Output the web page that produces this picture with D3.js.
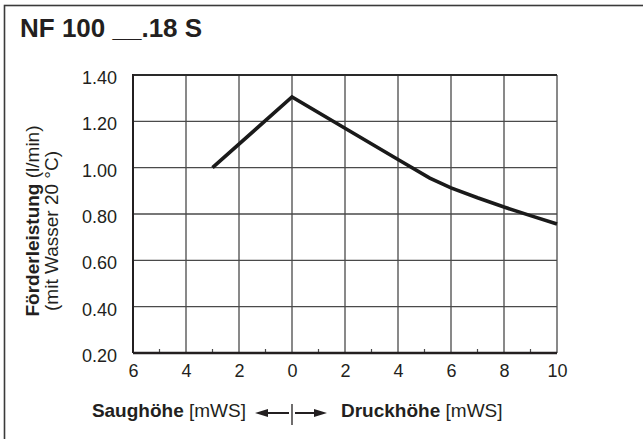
<!DOCTYPE html>
<html>
<head>
<meta charset="utf-8">
<script src="https://cdn.jsdelivr.net/npm/d3@7/dist/d3.min.js"></script>
<style>
	body { margin: 0; background: #fff; }
	svg text { font-family: "Liberation Sans", Arial, sans-serif; fill: #231f20; }
</style>
</head>
<body>
<svg id="chart" width="643" height="439"></svg>
<script>
// pump curve, head in mWS (negative = suction side)
var headValues = [-3, 0, 2, 4, 5.2, 6, 7, 8, 9, 10];
var flowValues = [1.00, 1.305, 1.17, 1.035, 0.955, 0.913, 0.87, 0.83, 0.793, 0.757];

var xTicks = [-6, -4, -2, 0, 2, 4, 6, 8, 10];
var xMinorTicks = [-5, -3, -1, 1, 3, 5, 7, 9];
var yTicks = [0.2, 0.4, 0.6, 0.8, 1.0, 1.2, 1.4];

var title = 'NF 100 __.18 S';

var svg = d3.select('#chart');
var x = d3.scaleLinear().domain([-6, 10]).range([133, 557]);
var y = d3.scaleLinear().domain([0.2, 1.4]).range([353, 75]);

// frame
svg.append('rect')
	.attr('x', 4.5).attr('y', 5.5)
	.attr('width', 700).attr('height', 500)
	.attr('fill', 'none')
	.attr('stroke', '#3a3a3a')
	.attr('stroke-width', 1.6);

svg.append('text')
	.attr('x', 20).attr('y', 37)
	.attr('font-size', '26px')
	.attr('font-weight', 'bold')
	.text(title);

// grid
svg.append('g').selectAll('line')
	.data(xTicks.slice(1))
	.join('line')
	.attr('x1', function(d) { return x(d); })
	.attr('x2', function(d) { return x(d); })
	.attr('y1', y(1.4)).attr('y2', y(0.2))
	.attr('stroke', '#4a4a4a')
	.attr('stroke-width', 1.3);

svg.append('g').selectAll('line')
	.data(yTicks.slice(1))
	.join('line')
	.attr('x1', x(-6)).attr('x2', x(10))
	.attr('y1', function(d) { return y(d); })
	.attr('y2', function(d) { return y(d); })
	.attr('stroke', function(d) { return d === 1.4 ? '#2a2a2a' : '#4a4a4a'; })
	.attr('stroke-width', function(d) { return d === 1.4 ? 1.8 : 1.3; });

// minor ticks
svg.append('g').selectAll('line')
	.data(xMinorTicks)
	.join('line')
	.attr('x1', function(d) { return x(d); })
	.attr('x2', function(d) { return x(d); })
	.attr('y1', y(0.2)).attr('y2', y(0.2) - 4)
	.attr('stroke', '#4a4a4a')
	.attr('stroke-width', 1.2);

// axis lines
svg.append('line')
	.attr('x1', x(-6)).attr('x2', x(10))
	.attr('y1', y(0.2)).attr('y2', y(0.2))
	.attr('stroke', '#231f20').attr('stroke-width', 2.4);
svg.append('line')
	.attr('x1', x(-6)).attr('x2', x(-6))
	.attr('y1', y(1.4) - 0.9).attr('y2', y(0.2))
	.attr('stroke', '#231f20').attr('stroke-width', 2);

// tick labels
var yAxis = svg.append('g')
	.attr('transform', 'translate(' + x(-6) + ',0)')
	.call(d3.axisLeft(y).tickValues(yTicks).tickSize(0).tickPadding(16).tickFormat(d3.format('.2f')));
yAxis.select('.domain').remove();
yAxis.selectAll('text')
	.attr('font-size', '18px')
	.attr('font-family', null)
	.attr('dy', '0.48em');

var xAxis = svg.append('g')
	.attr('transform', 'translate(0,' + y(0.2) + ')')
	.call(d3.axisBottom(x).tickValues(xTicks).tickSize(0).tickPadding(11).tickFormat(function(d) { return Math.abs(d); }));
xAxis.select('.domain').remove();
xAxis.selectAll('text')
	.attr('font-size', '18px')
	.attr('font-family', null);

// curve
var line = d3.line()
	.x(function(d) { return x(d[0]); })
	.y(function(d) { return y(d[1]); });

svg.append('path')
	.datum(d3.zip(headValues, flowValues))
	.attr('d', line)
	.attr('fill', 'none')
	.attr('stroke', '#1a1a1a')
	.attr('stroke-width', 3.6)
	.attr('stroke-linejoin', 'miter');

// y label
var yl1 = svg.append('text')
	.attr('transform', 'translate(39,221) rotate(-90)')
	.attr('text-anchor', 'middle')
	.attr('font-size', '19px');
yl1.append('tspan').attr('font-weight', 'bold').text('Förderleistung');
yl1.append('tspan').text(' (l/min)');

svg.append('text')
	.attr('transform', 'translate(58,231) rotate(-90)')
	.attr('text-anchor', 'middle')
	.attr('font-size', '19px')
	.text('(mit Wasser 20 °C)');

// bottom label
var bl1 = svg.append('text')
	.attr('x', 246).attr('y', 417)
	.attr('text-anchor', 'end')
	.attr('font-size', '19px');
bl1.append('tspan').attr('font-weight', 'bold').text('Saughöhe');
bl1.append('tspan').text(' [mWS]');

var bl2 = svg.append('text')
	.attr('x', 341).attr('y', 417)
	.attr('font-size', '19px');
bl2.append('tspan').attr('font-weight', 'bold').text('Druckhöhe');
bl2.append('tspan').text(' [mWS]');

// arrows
var ay = 413;
var zero = x(0);
svg.append('line')
	.attr('x1', zero).attr('x2', zero)
	.attr('y1', 404).attr('y2', 425)
	.attr('stroke', '#231f20').attr('stroke-width', 1.3);
svg.append('line')
	.attr('x1', zero - 3).attr('x2', 262)
	.attr('y1', ay).attr('y2', ay)
	.attr('stroke', '#231f20').attr('stroke-width', 2);
svg.append('path')
	.attr('d', 'M255,' + ay + 'L268,' + (ay - 4) + 'L268,' + (ay + 4) + 'Z')
	.attr('fill', '#231f20');
svg.append('line')
	.attr('x1', zero + 3).attr('x2', 320)
	.attr('y1', ay).attr('y2', ay)
	.attr('stroke', '#231f20').attr('stroke-width', 2);
svg.append('path')
	.attr('d', 'M327,' + ay + 'L314,' + (ay - 4) + 'L314,' + (ay + 4) + 'Z')
	.attr('fill', '#231f20');
</script>
</body>
</html>
